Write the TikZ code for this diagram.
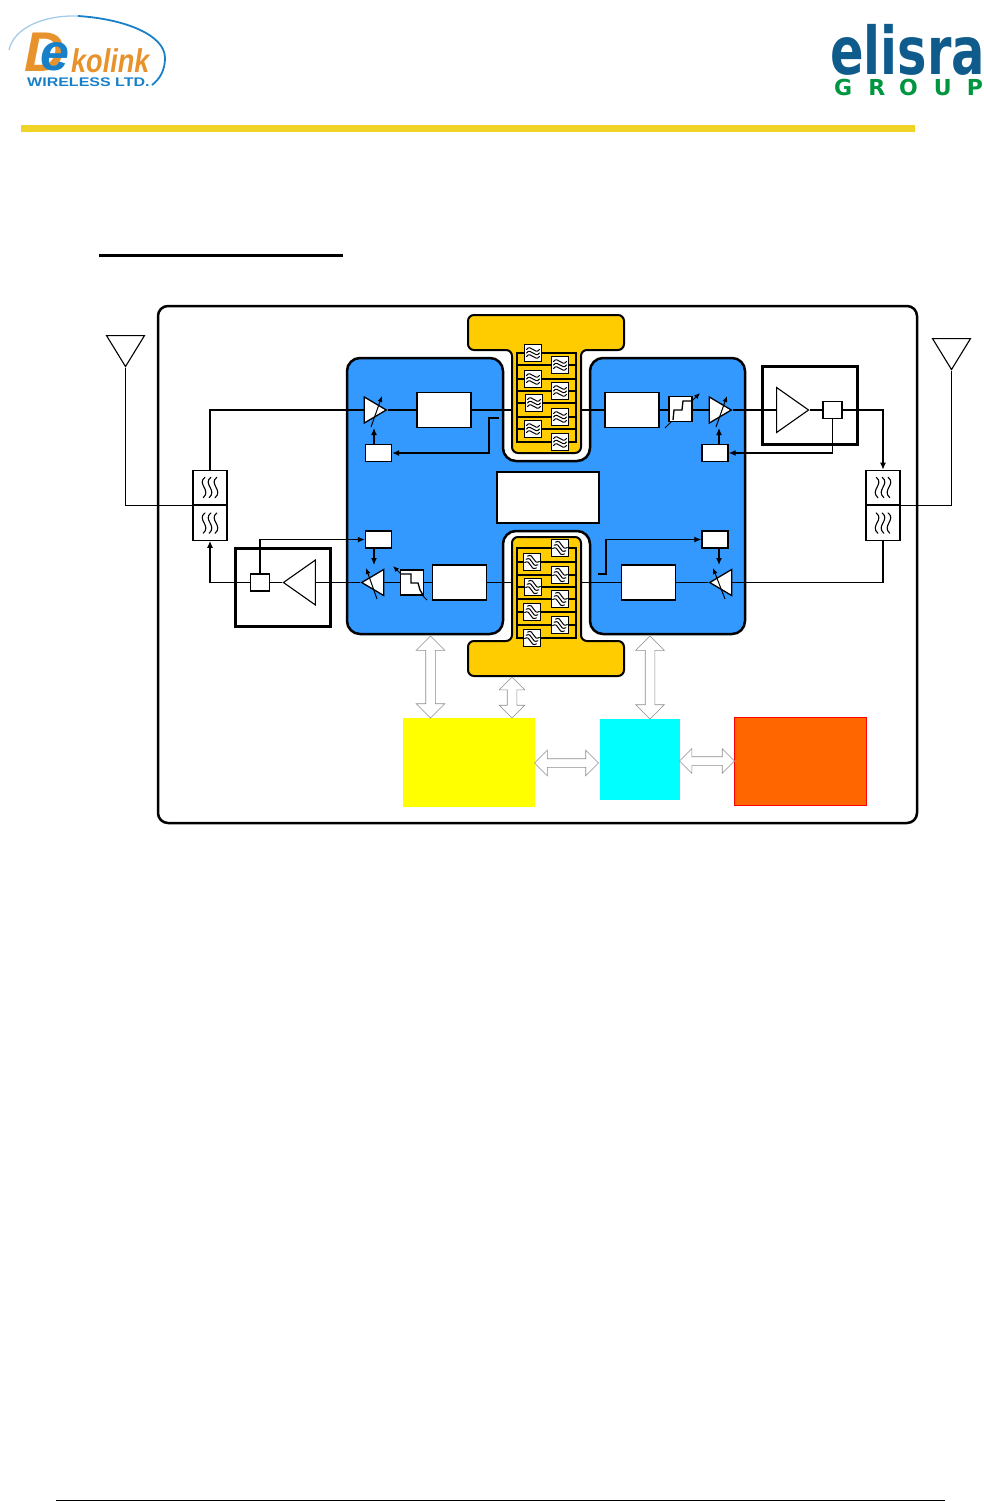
\documentclass[tikz,border=0pt]{standalone}
\usepackage{fontspec}
\setmainfont{Liberation Sans}
\newfontfamily\widefont{DejaVu Sans}
\usetikzlibrary{arrows.meta,positioning,shapes.geometric,shapes.arrows}
\definecolor{dspblue}{RGB}{51,153,255}
\definecolor{saw}{RGB}{255,204,0}
\definecolor{barcolor}{RGB}{239,212,39}
\definecolor{dekoorange}{RGB}{232,146,44}
\definecolor{dekoblue}{RGB}{24,128,200}
\definecolor{elisrablue}{RGB}{15,92,140}
\definecolor{elisragreen}{RGB}{0,150,64}
\definecolor{ctrlyellow}{RGB}{255,255,0}
\definecolor{modemcyan}{RGB}{0,255,255}
\definecolor{psuorange}{RGB}{255,102,0}
\definecolor{psured}{RGB}{255,0,0}
\tikzset{
  waves/.pic={
    \foreach \d in {-3.5,0,3.5}
      \draw[line width=1pt,line cap=round] (-6.5,\d) .. controls (-2,\d-6) and (2,\d+6) .. (6.5,\d);
  },
  dipwaves/.pic={
    \foreach \d in {-7,0,7}
      \draw[line width=1.1pt,line cap=round] (\d+1,-12) .. controls (\d-9,-4) and (\d+9,3) .. (\d-1,12);
  }
}

\begin{document}
\begin{tikzpicture}[x=1pt,y=-1pt]
  \tikzstyle{block}=[draw,line width=1.4pt,fill=white,inner sep=0pt,minimum width=54pt,minimum height=35pt]
  \tikzstyle{smallbox}=[draw,line width=1.4pt,fill=white,inner sep=0pt,minimum width=26pt,minimum height=17pt]
  \tikzstyle{coupler}=[draw,line width=1.2pt,fill=white,inner sep=0pt,minimum width=19pt,minimum height=17pt]
  \tikzstyle{stepbox}=[draw,line width=1.6pt,fill=white,inner sep=0pt,minimum width=23pt,minimum height=25pt]
  \tikzstyle{filterbox}=[draw,line width=1.6pt,fill=white,inner sep=0pt,minimum size=17pt]
  \tikzstyle{diplexer}=[draw,line width=1.1pt,fill=white,inner sep=0pt,minimum width=34pt,minimum height=34.5pt]
  \tikzstyle{rail}=[draw,line width=1.1pt,inner sep=0pt,minimum width=59pt]
  \tikzstyle{paframe}=[draw,line width=3pt,inner sep=0pt,minimum width=95pt,minimum height=78pt]
  \tikzstyle{ampright}=[draw,line width=1.3pt,fill=white,inner sep=0pt,isosceles triangle,isosceles triangle stretches,minimum width=26pt,minimum height=22pt,anchor=apex]
  \tikzstyle{ampleft}=[ampright,shape border rotate=180]
  \tikzstyle{paright}=[draw,line width=1.1pt,fill=white,inner sep=0pt,isosceles triangle,isosceles triangle stretches,minimum width=45pt,minimum height=32pt,anchor=apex]
  \tikzstyle{paleft}=[paright,shape border rotate=180]
  \tikzstyle{antenna}=[draw,line width=1.1pt,inner sep=0pt,isosceles triangle,isosceles triangle stretches,shape border rotate=-90,minimum width=38pt,minimum height=31pt,anchor=apex]
  \tikzstyle{dblarrow}=[draw=black!45,line width=0.6pt,fill=white,double arrow,double arrow head extend=9.5pt,inner sep=4.5pt,minimum width=28pt]
  \tikzstyle{wire}=[line width=1.2pt]
  \tikzstyle{wirearrow}=[line width=1.2pt,-{Latex[length=7pt,width=6pt]}]
  \tikzstyle{tune}=[line width=1pt,-{Latex[length=6pt,width=5pt]}]
  \useasboundingbox (0,0) rectangle (983,1501);

  % logos and page furniture
  \draw[draw=dekoblue!40,line width=1.3pt] (9,50) .. controls (14,27) and (45,15) .. (78,16);
  \draw[draw=dekoblue,line width=1.8pt] (78,16) .. controls (125,19) and (165,35) .. (165,58) .. controls (165,70) and (160,79) .. (152,85);
  \node[inner sep=0pt,text=dekoorange,font=\fontsize{56}{56}\bfseries\itshape] (dekoD) at (45,52) {D};
  \node[inner sep=0pt,text=dekoblue,font=\fontsize{52}{52}\bfseries\itshape] (dekoE) at (55,57) {e};
  \node[inner sep=0pt,text=dekoorange,font=\fontsize{33}{33}\bfseries\itshape,anchor=west] (dekoK) at (71,61) {\scalebox{0.82}[1]{kolink}};
  \node[inner sep=0pt,text=dekoblue,font=\fontsize{12.5}{12.5}\bfseries,anchor=west] (dekoW) at (27,82) {\scalebox{1.28}[1]{WIRELESS LTD.}};
  \node[inner sep=0pt,text=elisrablue,font=\fontsize{66}{66}\widefont\bfseries,anchor=west] (elisra) at (830,50) {\scalebox{0.75}[1]{elisra}};
  \node[inner sep=0pt,text=elisragreen,font=\fontsize{22}{22}\widefont\bfseries,anchor=west] (group) at (834,87) {G\hspace{16pt}R\hspace{14pt}O\hspace{16pt}U\hspace{15pt}P};
  \fill[barcolor] (21,125) rectangle (915,132);
  \draw[line width=3pt] (99,255) -- (343,255);
  \draw[line width=0.7pt] (56,1500) -- (945,1500);

  % outer frame
  \draw[line width=2.5pt,rounded corners=10pt] (158,306) rectangle (917,823);

  % blue dsp area and the two saw pieces
  \draw[fill=dspblue,line width=2.5pt,rounded corners=13pt] (347,634) -- (347,358) -- (503,358) -- (503,461)
    -- (590,461) -- (590,358) -- (745,358) -- (745,634) -- (590,634) -- (590,531) -- (503,531) -- (503,634) -- cycle;
  \draw[fill=saw,line width=2pt,rounded corners=6pt] (512,453) -- (512,350) -- (468,350) -- (468,315) -- (624,315)
    -- (624,350) -- (581,350) -- (581,453) -- cycle;
  \draw[fill=saw,line width=2pt,rounded corners=6pt] (512,537) -- (512,641) -- (468,641) -- (468,676) -- (624,676)
    -- (624,641) -- (581,641) -- (581,537) -- cycle;
  \coordinate (stemw) at (512,500);
  \coordinate (steme) at (581,500);

  % filter banks
  \node[rail,minimum height=89pt] (railtop) at (546.5,397.5) {};
  \node[rail,minimum height=90pt] (railbot) at (546.5,593) {};
  \foreach \n/\x/\y in {ta/533/353,tb/560/365,tc/533/379,td/560/391,te/534/403,tf/560/417,tg/533/429,th/560/442}{
    \node[filterbox] (\n) at (\x,\y) {};
    \draw[wire] (railtop.west |- \n) -- (\n.west);
    \draw[wire] (\n.east) -- (railtop.east |- \n);
    \pic at (\n) {waves};
  }
  \foreach \n/\x/\y in {ba/560/548,bb/532/562,bc/560/575,bd/533/587,be/560/599,bf/532/612,bg/560/625,bh/532/638}{
    \node[filterbox] (\n) at (\x,\y) {};
    \draw[wire] (railbot.west |- \n) -- (\n.west);
    \draw[wire] (\n.east) -- (railbot.east |- \n);
    \pic[rotate=-25] at (\n) {waves};
  }

  % tuning slashes of the step boxes go under them
  \coordinate (tunee) at (665,428);
  \coordinate (tuneetip) at (700,393);
  \coordinate (tunef) at (427,600);
  \coordinate (tuneftip) at (393,566);
  \draw[tune] (tunee) -- (tuneetip);
  \draw[tune] (tunef) -- (tuneftip);

  % blocks in the dsp area
  \node[draw,line width=1.2pt,fill=white,inner sep=0pt,minimum width=102pt,minimum height=51pt] (dsp) at (548,497.5) {};
  \node[block] (txmix) at (444,410) {};
  \node[block] (rxmix) at (632,410) {};
  \node[block] (txdac) at (459.5,582.5) {};
  \node[block] (rxdac) at (648.5,582.5) {};
  \node[stepbox] (upstep) at (680.5,409) {};
  \node[stepbox] (downstep) at (412,582.5) {};
  \node[smallbox] (agca) at (378.5,453) {};
  \node[smallbox] (agcb) at (715,453) {};
  \node[smallbox] (agcc) at (378.5,539.5) {};
  \node[smallbox] (agcd) at (715,539.5) {};
  \node[ampright] (ampa) at (388,410) {};
  \node[ampright] (ampb) at (733,410) {};
  \node[ampleft] (ampc) at (360,582.5) {};
  \node[ampleft] (ampd) at (708,582.5) {};

  % step symbols
  \draw[line width=1.3pt] (673,420) -- (674,410) -- (682,410) -- (683,401) -- (692,401);
  \draw[line width=1.3pt] (401,574) -- (411,574) -- (411,583) -- (418,583) -- (420,590) -- (423,595);

  % power amplifiers and couplers
  \node[paframe] (paup) at (809.5,405.5) {};
  \node[paframe] (padown) at (283,587) {};
  \node[paright] (patx) at (810,410) {};
  \node[paleft] (parx) at (282,582.5) {};
  \node[coupler] (cplup) at (832.5,410) {};
  \node[coupler] (cpldown) at (260,582.5) {};

  % diplexers and antennas
  \node[diplexer] (dipla) at (210,487.5) {};
  \node[diplexer,below=0pt of dipla] (diplb) {};
  \node[diplexer] (dipra) at (883,487.5) {};
  \node[diplexer,below=0pt of dipra] (diprb) {};
  \pic[scale=0.85] at (dipla) {dipwaves};
  \pic[scale=0.85] at (diplb) {dipwaves};
  \pic[scale=0.85,xscale=-1] at (dipra) {dipwaves};
  \pic[scale=0.85,xscale=-1] at (diprb) {dipwaves};
  \node[antenna] (antl) at (125.5,368) {};
  \node[antenna] (antr) at (951.5,371) {};

  % wiring
  \coordinate (agcatop) at (374,444);
  \coordinate (agcatip) at (374,428);
  \coordinate (agcbtop) at (719,444);
  \coordinate (agcbtip) at (719,428);
  \coordinate (agcctip) at (374,565);
  \coordinate (agcdtip) at (719,565);
  \coordinate (agcatap) at (499,418);
  \coordinate (agcdtap) at (598,574);
  \draw[wire] (antl.apex) |- (dipla.south west);
  \draw[wire] (antr.apex) |- (dipra.south east);
  \draw[line width=1.5pt] (dipla.north) |- (ampa.lower side);
  \draw[wire] (ampa.apex) -- (txmix.west);
  \draw[wire] (txmix.east) -- (stemw |- txmix);
  \draw[wire] (steme |- rxmix) -- (rxmix.west);
  \draw[wire] (rxmix.east) -- (upstep.west |- rxmix);
  \draw[wire] (upstep.east |- rxmix) -- (ampb.lower side);
  \draw[wire] (ampb.apex) -- (patx.lower side);
  \draw[wire] (patx.apex) -- (cplup.west);
  \draw[wirearrow] (cplup.east) -| (dipra.north);
  \draw[wirearrow] (cplup.south) |- (agcb.east);
  \draw[wirearrow] (agcbtop) -- (agcbtip);
  \draw[wirearrow] (agcatap) -| (489,453) -- (agca.east);
  \draw[wirearrow] (agcatop) -- (agcatip);
  \draw[wire] (diprb.south) |- (ampd.lower side);
  \draw[wire] (ampd.apex) -- (rxdac.east);
  \draw[wire] (rxdac.west) -- (steme |- rxdac);
  \draw[wire] (stemw |- txdac) -- (txdac.east);
  \draw[wire] (txdac.west) -- (downstep.east);
  \draw[wire] (downstep.west) -- (ampc.lower side);
  \draw[wire] (ampc.apex) -- (parx.lower side);
  \draw[wire] (parx.apex) -- (cpldown.east);
  \draw[wirearrow] (cpldown.west) -| (diplb.south);
  \draw[wirearrow] (cpldown.north) |- (agcc.west);
  \draw[wirearrow] (agcdtap) -| (606,539.5) -- (agcd.west);
  \draw[wirearrow] (agcc.south -| agcctip) -- (agcctip);
  \draw[wirearrow] (agcd.south -| agcdtip) -- (agcdtip);

  % tuning slashes of the amplifiers
  \coordinate (tunea) at (371,427);
  \coordinate (tuneatip) at (382,396);
  \coordinate (tuneb) at (716,427);
  \coordinate (tunebtip) at (727,396);
  \coordinate (tunec) at (377,599);
  \coordinate (tunectip) at (366,568);
  \coordinate (tuned) at (725,599);
  \coordinate (tunedtip) at (713,568);
  \draw[tune] (tunea) -- (tuneatip);
  \draw[tune] (tuneb) -- (tunebtip);
  \draw[tune] (tunec) -- (tunectip);
  \draw[tune] (tuned) -- (tunedtip);

  % lower blocks and buses
  \node[fill=ctrlyellow,inner sep=0pt,minimum width=132pt,minimum height=89pt] (ctrl) at (469,762.5) {};
  \node[fill=modemcyan,inner sep=0pt,minimum width=80pt,minimum height=81pt] (modem) at (640,759.5) {};
  \node[draw=psured,line width=0.6pt,fill=psuorange,inner sep=0pt,minimum width=132pt,minimum height=88pt] (psu) at (800,761) {};
  \node[dblarrow,rotate=90,minimum height=82pt] (busa) at (430.5,677) {};
  \node[dblarrow,rotate=90,minimum height=41pt,minimum width=24pt,double arrow head extend=8pt] (busb) at (512,697.5) {};
  \node[dblarrow,rotate=90,minimum height=83pt] (busc) at (650,677.5) {};
  \node[dblarrow,minimum height=64pt,minimum width=25pt,double arrow head extend=8.5pt,inner sep=4pt] (busd) at (566.5,763) {};
  \node[dblarrow,minimum height=55pt,minimum width=24pt,double arrow head extend=8pt,inner sep=4pt] (buse) at (707,761) {};
\end{tikzpicture}
\end{document}
